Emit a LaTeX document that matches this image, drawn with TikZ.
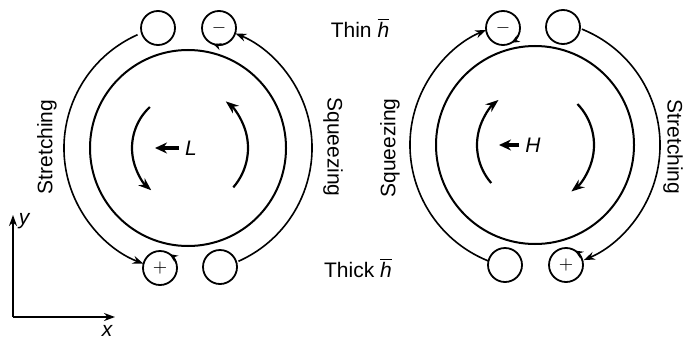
\documentclass[tikz,border=0pt]{standalone}
\usepackage{fontspec}
\setmainfont{Liberation Sans}
\usetikzlibrary{positioning,arrows.meta}

\begin{document}
\begin{tikzpicture}[x=0.5pt, y=0.5pt,
        vortexRing/.style={draw, line width=1pt},
        eddyDot/.style={circle, draw, line width=0.9pt, minimum size=17pt, inner sep=0pt, font=\small\bfseries},
        flowArc/.style={line width=0.8pt, -{Stealth[length=5.5pt, width=4pt]}},
        spinArc/.style={line width=1.1pt, -{Stealth[length=6.5pt, width=4.8pt]}},
        eddyTip/.style={line width=0.7pt, -{Stealth[length=4pt, width=3.6pt]}},
        pushArrow/.style={line width=1.6pt, -{Stealth[length=6pt, width=5.5pt]}},
        axisArrow/.style={line width=0.9pt, -{Stealth[length=5.5pt, width=4pt]}},
        sideLabel/.style={font=\fontsize{10.5}{12}\selectfont},
        vortexLabel/.style={font=\fontsize{10.5}{12}\selectfont\itshape, inner sep=3pt}
    ]
        \useasboundingbox (0,0) rectangle (683,338);

        % Vortice sinistro (L)
        \coordinate (cL) at (188,190);
        \draw[vortexRing] (cL) circle[radius=98];
        \node[eddyDot] (blankTopL) at (158,310) {};
        \node[eddyDot] (minusL) at (219,310) {$-$};
        \node[eddyDot] (plusL) at (160,70) {$+$};
        \node[eddyDot] (blankBotL) at (220,71) {};

        \draw[flowArc] ([shift={(114:124)}]cL) arc[start angle=114, end angle=249, radius=124];
        \draw[flowArc] ([shift={(-66:124)}]cL) arc[start angle=-66, end angle=67.5, radius=124];
        \draw[spinArc] ([shift={(133:56)}]cL) arc[start angle=133, end angle=229, radius=56];
        \draw[spinArc] ([shift={(-41:60)}]cL) arc[start angle=-41, end angle=51, radius=60];
        \draw[eddyTip] ([shift={(285:17)}]minusL) arc[start angle=285, end angle=250, radius=17];
        \draw[eddyTip] ([shift={(18:17)}]plusL) arc[start angle=18, end angle=55, radius=17];

        \node[vortexLabel] (labL) at (191,190) {L};
        \coordinate (tipL) at (155,190);
        \draw[pushArrow] (labL) -- (tipL);

        \node[sideLabel, rotate=90] (stretchL) at (47,191) {Stretching};
        \node[sideLabel, rotate=-90] (squeezeL) at (333,191) {Squeezing};

        % Etichette centrali
        \node[sideLabel] (thin) at (360,310) {Thin $\overline{\textit{h}}$};
        \node[sideLabel] (thick) at (358,70) {Thick $\overline{\textit{h}}$};

        % Vortice destro (H)
        \coordinate (cH) at (535,193);
        \draw[vortexRing] (cH) circle[radius=99];
        \node[eddyDot] (minusH) at (503,310) {$-$};
        \node[eddyDot] (blankTopH) at (563,311) {};
        \node[eddyDot] (blankBotH) at (505,73) {};
        \node[eddyDot] (plusH) at (566,73) {$+$};

        \draw[flowArc] ([shift={(248:125)}]cH) arc[start angle=248, end angle=113, radius=125];
        \draw[flowArc] ([shift={(68:125)}]cH) arc[start angle=68, end angle=-67, radius=125];
        \draw[spinArc] ([shift={(221:58)}]cH) arc[start angle=221, end angle=129, radius=58];
        \draw[spinArc] ([shift={(44:59)}]cH) arc[start angle=44, end angle=-52, radius=59];
        \draw[eddyTip] ([shift={(335:17)}]minusH) arc[start angle=335, end angle=300, radius=17];
        \draw[eddyTip] ([shift={(22:17)}]plusH) arc[start angle=22, end angle=58, radius=17];

        \node[vortexLabel] (labH) at (533,193) {H};
        \coordinate (tipH) at (499,193);
        \draw[pushArrow] (labH) -- (tipH);

        \node[sideLabel, rotate=90] (squeezeH) at (390,190) {Squeezing};
        \node[sideLabel, rotate=-90] (stretchH) at (673,191) {Stretching};

        % Assi
        \coordinate (origin) at (13,21);
        \coordinate (yEnd) at (13,123);
        \coordinate (xEnd) at (115,21);
        \draw[axisArrow] (origin) -- (yEnd);
        \draw[axisArrow] (origin) -- (xEnd);
        \node[vortexLabel] (yLab) at (24,117) {y};
        \node[vortexLabel] (xLab) at (107,7) {x};
    \end{tikzpicture}
\end{document}
